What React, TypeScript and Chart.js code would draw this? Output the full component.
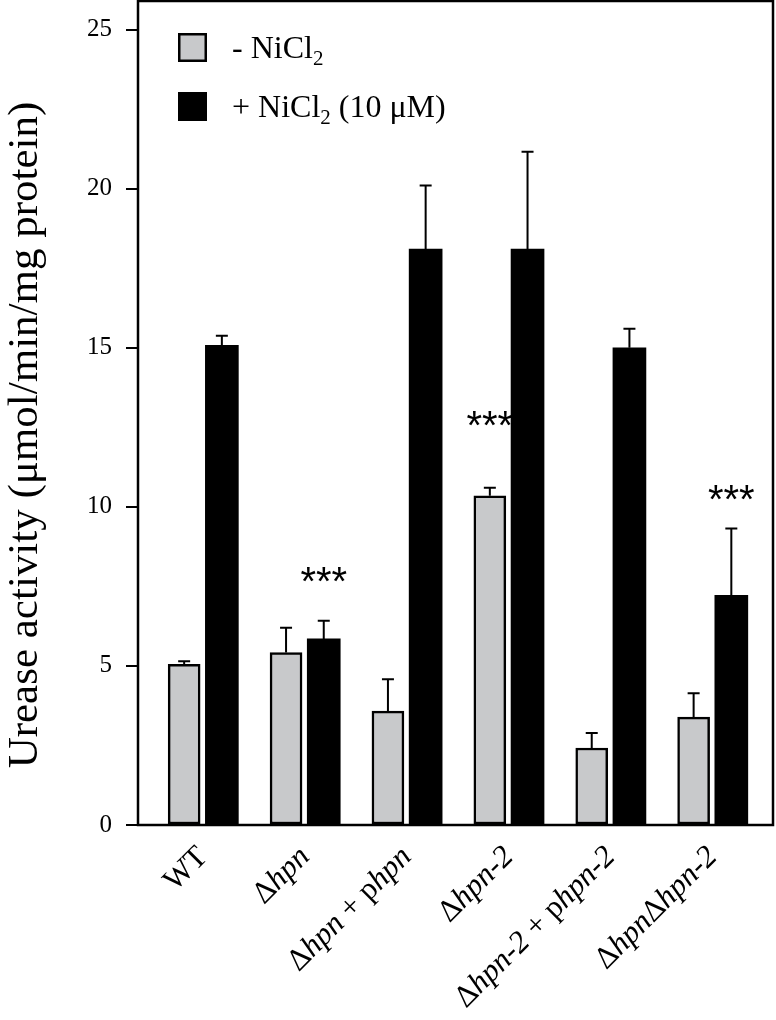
import React, { useEffect, useRef } from 'react';
import { Chart, registerables } from 'chart.js';

Chart.register(...registerables);

// ---- data ----
const categories = ['WT', 'Δhpn', 'Δhpn + phpn', 'Δhpn-2', 'Δhpn-2 + phpn-2', 'ΔhpnΔhpn-2'];
const seriesLabels = ['- NiCl₂', '+ NiCl₂ (10 μM)'];
const withoutNi = [5.05, 5.42, 3.58, 10.35, 2.42, 3.39];
const withoutNiErr = [0.1, 0.78, 1.0, 0.25, 0.47, 0.75];
const withNi = [15.08, 5.85, 18.1, 18.1, 15.0, 7.22];
const withNiErr = [0.3, 0.57, 2.0, 3.06, 0.6, 2.1];
const yTicks = [0, 5, 10, 15, 20, 25];
const sigCategory = [1, 3, 5];
const sigSeries = [1, 0, 1];
const sigLevel = [7.95, 12.85, 10.55];
const yTitle = 'Urease activity (μmol/min/mg protein)';

// ---- style / layout ----
const GRAY = '#c8c9cb';
const GROUP_OFFSET = 0.185;
const X_MIN = -0.638;
const X_MAX = 5.594;
const Y_MAX = 25.9;
const SERIF = '"Liberation Serif", "Times New Roman", serif';

const decor = {
  id: 'decor',
  afterDatasetsDraw(chart: any) {
    const ctx = chart.ctx;
    const y = chart.scales.y;
    const vals = [withoutNi, withNi];
    const errs = [withoutNiErr, withNiErr];
    ctx.save();
    ctx.strokeStyle = '#000';
    ctx.lineWidth = 2;
    chart.data.datasets.forEach((_ds: any, di: number) => {
      const meta = chart.getDatasetMeta(di);
      meta.data.forEach((bar: any, i: number) => {
        const top = y.getPixelForValue(vals[di][i]);
        const end = y.getPixelForValue(vals[di][i] + errs[di][i]);
        ctx.beginPath();
        ctx.moveTo(bar.x, top);
        ctx.lineTo(bar.x, end);
        ctx.moveTo(bar.x - 6, end);
        ctx.lineTo(bar.x + 6, end);
        ctx.stroke();
      });
    });
    ctx.restore();
  },
  afterDraw(chart: any) {
    const ctx = chart.ctx;
    const area = chart.chartArea;
    const x = chart.scales.x;
    const y = chart.scales.y;
    ctx.save();
    // frame
    ctx.strokeStyle = '#000';
    ctx.lineWidth = 2.5;
    ctx.strokeRect(area.left, area.top, area.right - area.left, area.bottom - area.top);

    // significance marks
    ctx.fillStyle = '#000';
    const sfs = 40;
    ctx.font = `${sfs}px "Liberation Sans", Arial, sans-serif`;
    ctx.textAlign = 'center';
    ctx.textBaseline = 'alphabetic';
    sigCategory.forEach((c, k) => {
      const bar = chart.getDatasetMeta(sigSeries[k]).data[c];
      const py = y.getPixelForValue(sigLevel[k]);
      ctx.fillText('***', bar.x, py + 0.58 * sfs);
    });

    // x labels (rotated, gene names italic)
    const fs = 31;
    categories.forEach((label, i) => {
      const parts = label.split(/(hpn-2|hpn)/).filter((p) => p.length > 0);
      const fonts = parts.map((p) => (/^hpn/.test(p) ? 'italic ' : '') + `${fs}px ${SERIF}`);
      const widths = parts.map((p, k) => {
        ctx.font = fonts[k];
        return ctx.measureText(p).width;
      });
      const total = widths.reduce((a, b) => a + b, 0);
      const ax = x.getPixelForValue(i) + 6;
      const ay = area.bottom + 33;
      ctx.save();
      ctx.translate(ax, ay);
      ctx.rotate(-Math.PI / 4);
      ctx.textAlign = 'left';
      ctx.textBaseline = 'alphabetic';
      let cx = -total;
      parts.forEach((p, k) => {
        ctx.font = fonts[k];
        ctx.fillText(p, cx, 0);
        cx += widths[k];
      });
      ctx.restore();
    });

    // y title
    ctx.save();
    ctx.translate(26, 435);
    ctx.rotate(-Math.PI / 2);
    ctx.textAlign = 'center';
    ctx.textBaseline = 'middle';
    ctx.font = `43px ${SERIF}`;
    ctx.fillText(yTitle, 0, 0);
    ctx.restore();

    // legend
    const lx = area.left + 40;
    const rows = [33, 92];
    const box = 29;
    const lfs = 32;
    chart.data.datasets.forEach((ds: any, di: number) => {
      const top = rows[di];
      ctx.fillStyle = ds.backgroundColor;
      ctx.fillRect(lx, top, box, box);
      if (ds.borderWidth) {
        ctx.strokeStyle = '#000';
        ctx.lineWidth = 2.5;
        ctx.strokeRect(lx + 1.25, top + 1.25, box - 2.5, box - 2.5);
      }
      ctx.fillStyle = '#000';
      ctx.textAlign = 'left';
      ctx.textBaseline = 'alphabetic';
      const base = top + box / 2 + 10;
      const segs = String(ds.label).split('₂');
      let tx = lx + 54;
      segs.forEach((s, k) => {
        ctx.font = `${lfs}px ${SERIF}`;
        ctx.fillText(s, tx, base);
        tx += ctx.measureText(s).width;
        if (k < segs.length - 1) {
          ctx.font = `${Math.round(lfs * 0.66)}px ${SERIF}`;
          ctx.fillText('2', tx, base + 7);
          tx += ctx.measureText('2').width;
        }
      });
    });
    ctx.restore();
  },
};

export default function App() {
  const ref = useRef<HTMLCanvasElement | null>(null);
  useEffect(() => {
    document.body.style.margin = '0';
    const canvas = ref.current;
    if (!canvas) return;
    const chart = new Chart(canvas, {
      type: 'bar',
      data: {
        datasets: [
          {
            label: seriesLabels[0],
            data: withoutNi.map((v, i) => ({ x: i - GROUP_OFFSET, y: v })),
            backgroundColor: GRAY,
            borderColor: '#000',
            borderWidth: 2.5,
            borderSkipped: false,
            barThickness: 32,
            grouped: false,
          } as any,
          {
            label: seriesLabels[1],
            data: withNi.map((v, i) => ({ x: i + GROUP_OFFSET, y: v })),
            backgroundColor: '#000',
            borderWidth: 0,
            barThickness: 33,
            grouped: false,
          } as any,
        ],
      },
      options: {
        responsive: false,
        animation: false,
        devicePixelRatio: 1,
        layout: { padding: { top: 1, right: 3, left: 0, bottom: 0 } },
        plugins: {
          legend: { display: false },
          tooltip: { enabled: false },
          title: { display: false },
        },
        scales: {
          x: {
            type: 'linear',
            offset: false,
            min: X_MIN,
            max: X_MAX,
            grid: { display: false },
            border: { display: false },
            ticks: { display: false },
            afterFit: (s: any) => {
              s.height = 195;
              s.paddingLeft = 0;
              s.paddingRight = 0;
            },
          },
          y: {
            type: 'linear',
            min: 0,
            max: Y_MAX,
            afterBuildTicks: (s: any) => {
              s.ticks = yTicks.map((v) => ({ value: v }));
            },
            grid: {
              display: true,
              drawOnChartArea: false,
              drawTicks: true,
              tickLength: 12,
              color: '#000',
              lineWidth: 2,
            },
            border: { display: false },
            ticks: {
              color: '#000',
              padding: 14,
              font: { family: SERIF, size: 25 },
            },
            afterFit: (s: any) => {
              s.width = 138;
              s.paddingTop = 0;
              s.paddingBottom = 0;
            },
          },
        },
      } as any,
      plugins: [decor],
    });
    return () => chart.destroy();
  }, []);
  return <canvas ref={ref} width={776} height={1020} style={{ display: 'block' }} />;
}
